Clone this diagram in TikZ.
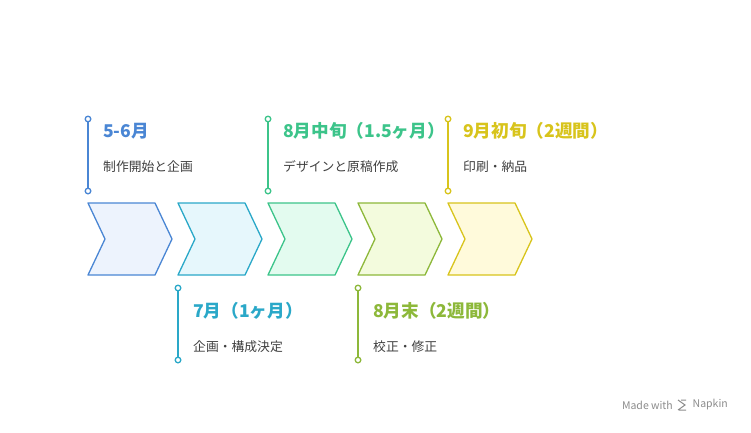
\documentclass[tikz,border=0pt]{standalone}
\usepackage{fontspec}
\setmainfont{Noto Sans CJK JP}
\begin{document}
\begin{tikzpicture}[x=1pt,y=-1pt,
  tl/.style={font=\bfseries\fontsize{17.6}{19}\selectfont,anchor=west,inner sep=0pt},
  st/.style={font=\fontsize{12.8}{14}\selectfont,anchor=west,inner sep=0pt,text=black!75},
  mk/.style={line width=1.3pt},
  ch/.style={line width=1.3pt,line join=round}]
\useasboundingbox[fill=white] (0,0) rectangle (751,432);
\definecolor{c1}{HTML}{4A86D4}\definecolor{f1}{HTML}{EDF3FD}
\definecolor{c2}{HTML}{2AA8C8}\definecolor{f2}{HTML}{E6F7FC}
\definecolor{c3}{HTML}{3CC48A}\definecolor{f3}{HTML}{E3FBEF}
\definecolor{c4}{HTML}{8DB83A}\definecolor{f4}{HTML}{F3FBDD}
\definecolor{c5}{HTML}{D8C41C}\definecolor{f5}{HTML}{FFFADB}
\foreach \i/\c/\f in {0/c1/f1,1/c2/f2,2/c3/f3,3/c4/f4,4/c5/f5}{
  \draw[ch,draw=\c,fill=\f] ({88+90*\i},203) -- ({155+90*\i},203) -- ({172+90*\i},239) -- ({155+90*\i},275) -- ({88+90*\i},275) -- ({105+90*\i},239) -- cycle;
}
\foreach \x/\ya/\yb/\c in {88/119/191/c1,178/288/360/c2,268/119/191/c3,358/288/360/c4,448/119/191/c5}{
  \coordinate (a\x) at (\x,\ya); \coordinate (b\x) at (\x,\yb);
  \draw[mk,\c] (a\x) -- (b\x);
  \draw[mk,\c,fill=white] (a\x) circle (2.8);
  \draw[mk,\c,fill=white] (b\x) circle (2.8);
}
\node[tl,text=c1] (t1) at (103,131) {5-6月};
\node[st] (s1) at (103,167) {制作開始と企画};
\node[tl,text=c2] (t2) at (193,311) {7月（1ヶ月）};
\node[st] (s2) at (193,347) {企画・構成決定};
\node[tl,text=c3] (t3) at (283,131) {8月中旬（1.5ヶ月）};
\node[st] (s3) at (283,167) {デザインと原稿作成};
\node[tl,text=c4] (t4) at (373,311) {8月末（2週間）};
\node[st] (s4) at (373,347) {校正・修正};
\node[tl,text=c5] (t5) at (463,131) {9月初旬（2週間）};
\node[st] (s5) at (463,167) {印刷・納品};
\node[font=\fontsize{10.5}{11}\selectfont,text=black!45,anchor=east,inner sep=0pt] (nk) at (728,405) {Napkin};
\node[font=\fontsize{10.5}{11}\selectfont,text=black!45,anchor=east,inner sep=0pt] (mw) at (673,405) {Made with};
\draw[black!45,line width=1pt] (678,400) -- (685,405) -- (678,410) (681,400) -- (686,400) (679,410)--(686,410);
\end{tikzpicture}
\end{document}
